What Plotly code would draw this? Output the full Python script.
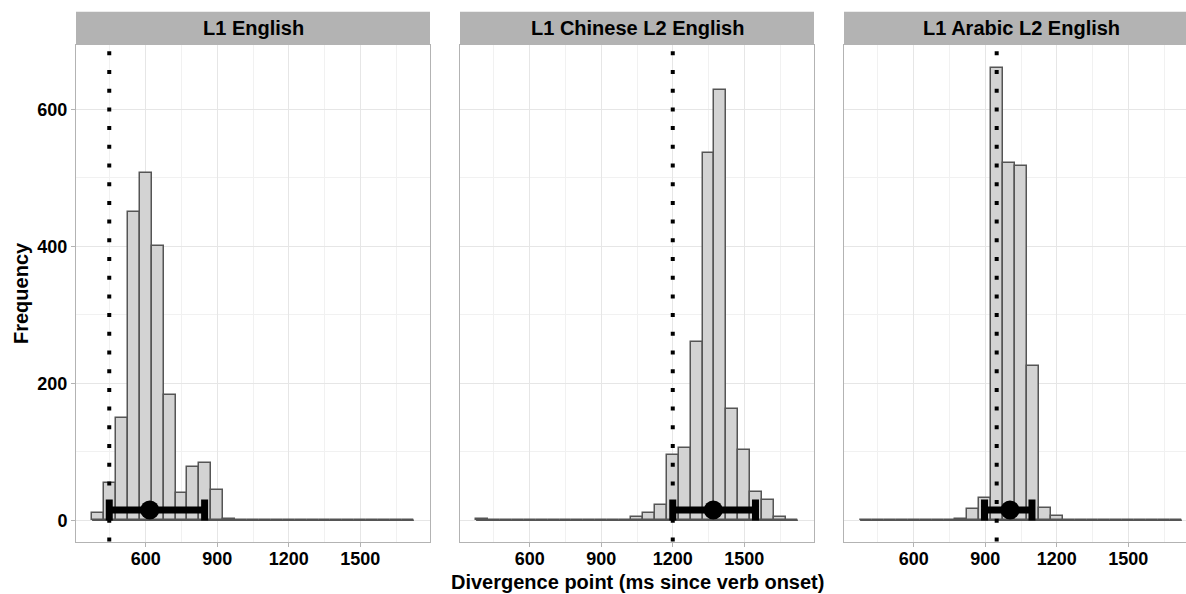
import plotly.graph_objects as go

# ---------------- data ----------------
panel_titles = ["L1 English", "L1 Chinese L2 English", "L1 Arabic L2 English"]
bin_centers = [400, 450, 500, 550, 600, 650, 700, 750, 800, 850, 900, 950, 1000,
               1050, 1100, 1150, 1200, 1250, 1300, 1350, 1400, 1450, 1500, 1550,
               1600, 1650, 1700]
bin_width = 50
counts_l1 = [11, 54, 149, 450, 507, 400, 183, 40, 78, 83, 44, 2, 0,
             0, 0, 0, 0, 0, 0, 0, 0, 0, 0, 0, 0, 0, 0]
counts_l2 = [2, 0, 0, 0, 0, 0, 0, 1, 0, 0, 0, 0, 0,
             5, 10, 22, 95, 106, 260, 536, 628, 163, 103, 41, 29, 5, 0]
counts_l3 = [0, 0, 0, 0, 0, 0, 0, 0, 2, 17, 33, 661, 521,
             517, 225, 18, 6, 0, 0, 0, 0, 0, 0, 0, 0, 0, 0]
all_counts = [counts_l1, counts_l2, counts_l3]
ref_lines = [447, 1200, 948]          # dotted vertical lines
means = [617, 1370, 1004]             # point estimates
ci_low = [447, 1200, 897]
ci_high = [847, 1547, 1096]
ci_y = 15
x_tickvals = [600, 900, 1200, 1500]
x_minorvals = [450, 750, 1050, 1350, 1650]
y_tickvals = [0, 200, 400, 600]
y_minorvals = [100, 300, 500]

# ---------------- layout geometry (pixels) ----------------
W, H = 1186, 594
panels_px = [(76, 430), (460, 814), (844, 1198)]
plot_top, plot_bottom = 45, 541.5
strip_top = 11.7
x_full = [307.5, 1792.5]
y_range = [-31, 694]

def fx(p):
    return p / W

def fy(p):
    return 1 - p / H

FONT = "Liberation Sans, Arial, Helvetica, sans-serif"
fig = go.Figure()

for i in range(3):
    n = i + 1
    xa = "x" if n == 1 else f"x{n}"
    ya = "y" if n == 1 else f"y{n}"
    left, right = panels_px[i]
    r_clip = min(right, W)
    frac = (r_clip - left) / (right - left)
    xr = [x_full[0], x_full[0] + (x_full[1] - x_full[0]) * frac]

    # baseline of zero-height bins
    fig.add_trace(go.Scatter(
        x=[bin_centers[0] - bin_width / 2, bin_centers[-1] + bin_width / 2],
        y=[0, 0], mode="lines", line=dict(color="#555555", width=1.5),
        xaxis=xa, yaxis=ya, showlegend=False, hoverinfo="skip"))
    # histogram bars
    fig.add_trace(go.Bar(
        x=bin_centers, y=all_counts[i], width=bin_width,
        marker=dict(color="#d3d3d3", line=dict(color="#555555", width=1.5)),
        xaxis=xa, yaxis=ya, showlegend=False))
    # error bar with point
    fig.add_trace(go.Scatter(
        x=[means[i]], y=[ci_y], mode="markers",
        marker=dict(color="black", size=19),
        error_x=dict(type="data", symmetric=False,
                     array=[ci_high[i] - means[i]],
                     arrayminus=[means[i] - ci_low[i]],
                     color="black", thickness=7, width=10.5),
        xaxis=xa, yaxis=ya, showlegend=False))
    # dotted vertical reference line
    fig.add_shape(type="line", xref=xa, yref=f"{ya} domain",
                  x0=ref_lines[i], x1=ref_lines[i], y0=0, y1=1,
                  line=dict(color="black", width=4, dash="4px,14.7px"),
                  layer="above")

    fig.update_layout({
        ("xaxis" if n == 1 else f"xaxis{n}"): dict(
            domain=[fx(left), fx(r_clip)], range=xr, anchor=ya,
            tickvals=x_tickvals, ticks="outside", ticklen=4, tickwidth=1,
            tickcolor="#b3b3b3", showgrid=True, gridcolor="#e6e6e6", gridwidth=1,
            minor=dict(tickvals=x_minorvals, showgrid=True,
                       gridcolor="#f1f1f1", gridwidth=1, ticks=""),
            zeroline=False, showline=True, linecolor="#b3b3b3", linewidth=1,
            mirror=True, ticklabelstandoff=-3,
            tickfont=dict(family=FONT, size=18, color="black", weight="bold"),
        ),
        ("yaxis" if n == 1 else f"yaxis{n}"): dict(
            domain=[fy(plot_bottom), fy(plot_top)], range=y_range, anchor=xa,
            tickvals=y_tickvals, ticks="outside" if n == 1 else "",
            showticklabels=(n == 1), ticklen=4, tickwidth=1,
            tickcolor="#b3b3b3", showgrid=True, gridcolor="#e6e6e6", gridwidth=1,
            minor=dict(tickvals=y_minorvals, showgrid=True,
                       gridcolor="#f1f1f1", gridwidth=1, ticks=""),
            zeroline=False, showline=True, linecolor="#b3b3b3", linewidth=1,
            mirror=(n != 3),
            tickfont=dict(family=FONT, size=18, color="black", weight="bold"),
        ),
    })

    # strip header
    fig.add_shape(type="rect", xref="paper", yref="paper",
                  x0=fx(left), x1=fx(r_clip), y0=fy(plot_top), y1=fy(strip_top),
                  fillcolor="#b3b3b3", line=dict(width=0), layer="below")
    fig.add_annotation(xref="paper", yref="paper",
                       x=fx((left + right) / 2), y=fy((strip_top + plot_top) / 2),
                       text=panel_titles[i], showarrow=False,
                       xanchor="center", yanchor="middle",
                       font=dict(family=FONT, size=20, color="black", weight="bold"))

# axis titles
fig.add_annotation(xref="paper", yref="paper", x=fx(637), y=fy(582),
                   text="Divergence point (ms since verb onset)", showarrow=False,
                   xanchor="center", yanchor="middle",
                   font=dict(family=FONT, size=20, color="black", weight="bold"))
fig.add_annotation(xref="paper", yref="paper", x=fx(21), y=fy(293),
                   text="Frequency", showarrow=False, textangle=-90,
                   xanchor="center", yanchor="middle",
                   font=dict(family=FONT, size=20, color="black", weight="bold"))

fig.update_layout(width=W, height=H, margin=dict(l=0, r=0, t=0, b=0),
                  paper_bgcolor="white", plot_bgcolor="white",
                  bargap=0, showlegend=False)

fig.write_html("out.html")
